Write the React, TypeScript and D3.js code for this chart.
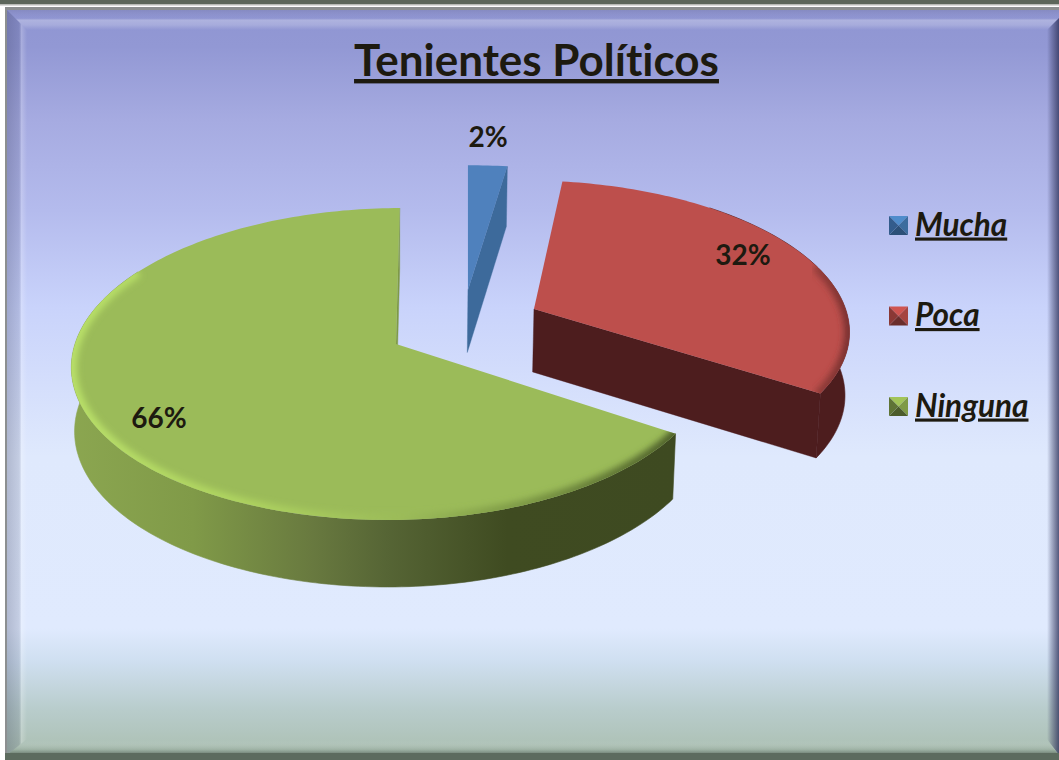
import React from "react";
import * as d3 from "d3";

const categories = ["Mucha", "Poca", "Ninguna"];
const sliceValues = [2.3, 32, 65.7];
const titleText = "Tenientes Políticos";

const W = 1059, H = 760;
const APEX_X = 396, APEX_Y = 344, RX = 321, RY = 153.4, PERSP = 0.128;
const DEPTH_BASE = 40, DEPTH_PERSP = 23.6, BOTTOM_SHRINK = 0.99;
const START = (-0.5 * Math.PI) / 180;
const shearBy = [12, 7, 7];
const rightSquash = [1, 1, 0.98];
const explodeX = [0.221, 0.4376, 0];
const explodeY = [-0.369, -0.235, 0];
const labelRadius = [1.26, 0.816, 0.824];
const labelShift = [-0.7, -4, -5];
const topColors = ["#4f81bd", "#bd4f4c", "#9bbb59"];
const wallFill = ["#3d6a9b", "#4d1d1e", "url(#wallGreen)"];
const faceFill = ["#3d6a9b", "#4d1d1e", "#7f9a48"];
const bevelStroke = ["none", "url(#bevelRed)", "url(#bevelGreen)"];
const bevelRange = [[0, 0], [72, 124], [100, 300]];
const wallRange = [[0, 0], [40, 124], [120, 300]];
const legendY = [225.5, 316, 406.5];
const legendPal = [
  ["#4f8ccb", "#3c6c9e", "#2c5078", "#335c8c"],
  ["#cf5450", "#a54441", "#6a2d2b", "#8a3835"],
  ["#a2c458", "#7f9a45", "#4c5c2c", "#5f7436"],
];

const pct = d3.format(".0%");
const pie = d3.pie<number>().sort(null).startAngle(START).endAngle(START + 2 * Math.PI);
const arcs = pie(sliceValues);
const total = d3.sum(sliceValues);
const line = d3.line<[number, number]>().x(d => d[0]).y(d => d[1]);
const rad = (d: number) => (d * Math.PI) / 180;

function plane(i: number, X: number, Yf: number, low = false): [number, number] {
  const s = 1 / (1 - PERSP * Yf);
  const k = (low ? BOTTOM_SHRINK : 1) * (X > 0 ? rightSquash[i] : 1);
  return [
    APEX_X + RX * X * s * k - shearBy[i] * Yf * s,
    APEX_Y + RY * Yf * s + (low ? DEPTH_BASE + DEPTH_PERSP * s : 0),
  ];
}
function pt(i: number, a: number, r = 1, low = false): [number, number] {
  return plane(i, explodeX[i] + r * Math.sin(a), explodeY[i] - r * Math.cos(a), low);
}
function rim(i: number, a0: number, a1: number, low = false) {
  const n = Math.max(2, Math.ceil(Math.abs(a1 - a0) / 0.02));
  return d3.range(n + 1).map(k => pt(i, a0 + ((a1 - a0) * k) / n, 1, low));
}

function Slice({ i }: { i: number }) {
  const { startAngle: a0, endAngle: a1 } = arcs[i];
  const top = [pt(i, 0, 0), ...rim(i, a0, a1)];
  const [w0, w1] = wallRange[i].map(rad);
  const [b0, b1] = bevelRange[i].map(rad);
  const wallStart = Math.max(w0, a0);
  const wallEnd = Math.min(w1, a1);
  const wall = [...rim(i, wallStart, wallEnd), ...rim(i, wallEnd, wallStart, true)];
  // The radial cut face that looks toward the viewer: end of blue, end of red, end of green
  const face = [pt(i, a0, 0), pt(i, a1), pt(i, a1, 1, true), pt(i, a0, 0, true)];
  return (
    <g>
      <path d={line(face)! + "Z"} fill={faceFill[i]} stroke={faceFill[i]} strokeWidth={0.4} />
      {wallEnd > wallStart && (
        <path d={line(wall)! + "Z"} fill={wallFill[i]} stroke={wallFill[i]} strokeWidth={0.6} />
      )}
      <path d={line(top)! + "Z"} fill={topColors[i]} />
      <clipPath id={`clip${i}`}><path d={line(top)! + "Z"} /></clipPath>
      {b1 > b0 && (
        <g clipPath={`url(#clip${i})`}>
          <path d={line(rim(i, b0, b1))!} fill="none" stroke={bevelStroke[i]} strokeWidth={11} filter="url(#soft)" />
        </g>
      )}
    </g>
  );
}

export default function App() {
  return (
    <svg width={W} height={H} viewBox={`0 0 ${W} ${H}`} style={{ position: "absolute", left: 0, top: 0, display: "block" }}>
      <defs>
        <linearGradient id="bg" gradientUnits="userSpaceOnUse" x1="0" y1="9" x2="0" y2="755">
          <stop offset="0" stopColor="#8f95d2" />
          <stop offset="0.05" stopColor="#9298d4" />
          <stop offset="0.15" stopColor="#a6abe1" />
          <stop offset="0.27" stopColor="#b4bbed" />
          <stop offset="0.4" stopColor="#c9d3fb" />
          <stop offset="0.6" stopColor="#dfe9fd" />
          <stop offset="0.83" stopColor="#e0eafe" />
          <stop offset="0.875" stopColor="#cfdff0" />
          <stop offset="0.94" stopColor="#b8cccb" />
          <stop offset="1" stopColor="#abbfb1" />
        </linearGradient>
        <linearGradient id="leftB" x1="0" x2="1" y1="0" y2="0">
          <stop offset="0" stopColor="#1c2040" stopOpacity="0.24" />
          <stop offset="0.6" stopColor="#1c2040" stopOpacity="0.14" />
          <stop offset="0.72" stopColor="#fff" stopOpacity="0.22" />
          <stop offset="1" stopColor="#fff" stopOpacity="0" />
        </linearGradient>
        <linearGradient id="rightB" x1="0" x2="1" y1="0" y2="0">
          <stop offset="0" stopColor="#30345c" stopOpacity="0" />
          <stop offset="0.35" stopColor="#30345c" stopOpacity="0.3" />
          <stop offset="1" stopColor="#30345c" stopOpacity="0.8" />
        </linearGradient>
        <linearGradient id="topB" x1="0" x2="0" y1="0" y2="1">
          <stop offset="0" stopColor="#6a6c90" stopOpacity="0.25" />
          <stop offset="0.4" stopColor="#8a8ec8" stopOpacity="0.1" />
          <stop offset="0.5" stopColor="#fff" stopOpacity="0.28" />
          <stop offset="0.75" stopColor="#fff" stopOpacity="0.2" />
          <stop offset="1" stopColor="#fff" stopOpacity="0" />
        </linearGradient>
        <linearGradient id="botB" x1="0" x2="0" y1="0" y2="1">
          <stop offset="0" stopColor="#fff" stopOpacity="0" />
          <stop offset="0.6" stopColor="#667a6a" stopOpacity="0.2" />
          <stop offset="1" stopColor="#4e5c50" stopOpacity="0.8" />
        </linearGradient>
        <linearGradient id="wallGreen" gradientUnits="userSpaceOnUse" x1="72" x2="676" y1="0" y2="0">
          <stop offset="0" stopColor="#8ba650" />
          <stop offset="0.2" stopColor="#809a48" />
          <stop offset="0.4" stopColor="#68793f" />
          <stop offset="0.52" stopColor="#566535" />
          <stop offset="0.72" stopColor="#3f4b21" />
          <stop offset="1" stopColor="#3e4a21" />
        </linearGradient>
        <linearGradient id="bevelGreen" gradientUnits="userSpaceOnUse" x1="72" x2="676" y1="0" y2="0">
          <stop offset="0" stopColor="#b9e069" />
          <stop offset="0.3" stopColor="#add25f" />
          <stop offset="0.55" stopColor="#9bbb59" />
          <stop offset="0.75" stopColor="#7c9845" />
          <stop offset="1" stopColor="#4d5f2a" />
        </linearGradient>
        <linearGradient id="bevelRed" gradientUnits="userSpaceOnUse" x1="760" x2="847" y1="0" y2="0">
          <stop offset="0" stopColor="#bd4f4c" />
          <stop offset="1" stopColor="#7a3230" />
        </linearGradient>
        <filter id="soft" x="-10%" y="-10%" width="120%" height="120%"><feGaussianBlur stdDeviation="3" /></filter>
      </defs>

      <rect width={W} height={H} fill="#ffffff" />
      <rect x={0} y={0} width={W} height={4} fill="#5c665a" />
      <rect x={0} y={4} width={W} height={1.5} fill="#b8bab6" />
      <rect x={5} y={7} width={W - 5} height={H - 7} fill="#8c8f90" />
      <rect x={7} y={10} width={W - 7} height={H - 10} fill="url(#bg)" />
      <polygon points="7,10 27,30 1047,30 1059,18 1059,10" fill="url(#topB)" />
      <polygon points="7,10 27,30 27,739 7,755" fill="url(#leftB)" />
      <polygon points="1059,18 1047,30 1047,739 1059,755" fill="url(#rightB)" />
      <polygon points="7,755 24,741 1047,741 1059,755" fill="url(#botB)" />
      <rect x={0} y={753} width={W} height={7} fill="#5c6b5e" />
      <rect x={0} y={7} width={5} height={H - 7} fill="#ffffff" />

      <text x={536.5} y={76} textAnchor="middle" fontFamily="Lato" fontWeight={700} fontSize={44} fill="#1d1a10" textDecoration="underline" style={{ fontVariantLigatures: "none" }}>{titleText}</text>

      {[0, 1, 2].map(i => <Slice key={i} i={i} />)}

      {arcs.map((d, i) => {
        const m = (d.startAngle + d.endAngle) / 2 + rad(labelShift[i]);
        const [x, y] = pt(i, m, labelRadius[i]);
        return (
          <text key={i} x={x} y={y} dy="0.35em" textAnchor="middle" fontFamily="Lato" fontWeight={700} fontSize={28} fill="#1d1a10">
            {pct(sliceValues[i] / total)}
          </text>
        );
      })}

      {categories.map((c, i) => {
        const y = legendY[i], x0 = 889, x1 = 908, cx = 898.5, y0 = y - 9.5, y1 = y + 9.5;
        const tris = [
          [[x0, y0], [x1, y0], [cx, y]],
          [[x1, y0], [x1, y1], [cx, y]],
          [[x1, y1], [x0, y1], [cx, y]],
          [[x0, y1], [x0, y0], [cx, y]],
        ] as [number, number][][];
        return (
          <g key={c}>
            {tris.map((t, k) => <path key={k} d={line(t)! + "Z"} fill={legendPal[i][k]} />)}
            <text x={915} y={y + 10} fontFamily="Lato" fontWeight={700} fontStyle="italic" fontSize={31.5} fill="#1d1a10" textDecoration="underline">{c}</text>
          </g>
        );
      })}
    </svg>
  );
}
